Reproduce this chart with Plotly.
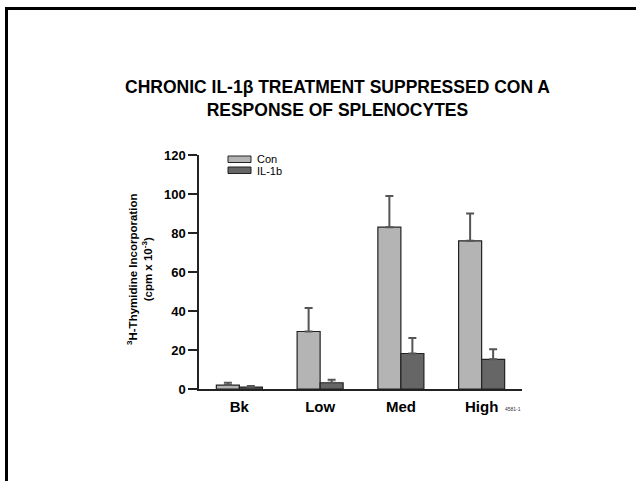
import plotly.graph_objects as go

# ---- data ----
categories = ["Bk", "Low", "Med", "High"]
con_values = [2.0, 29.5, 83.0, 76.0]
con_err_plus = [1.2, 12.0, 16.0, 14.0]
il1b_values = [1.0, 3.2, 18.2, 15.2]
il1b_err_plus = [0.6, 1.6, 8.0, 5.2]
y_ticks = [0, 20, 40, 60, 80, 100, 120]
title_lines = ["CHRONIC IL-1β TREATMENT SUPPRESSED CON A", "RESPONSE OF SPLENOCYTES"]

W, H = 636, 481
L, R, T, B = 199, 636 - 522, 155, 481 - 389
PW, PH = W - L - R, H - T - B
FONT = "Liberation Sans, Arial, Helvetica, sans-serif"


def px_x(x):
    return (x - L) / PW


def px_y(y):
    return (H - B - y) / PH


fig = go.Figure()
fig.add_trace(go.Bar(
    x=categories, y=con_values, name="Con",
    marker=dict(color="#b4b4b4", line=dict(color="#222222", width=1.2)),
    error_y=dict(type="data", array=con_err_plus, arrayminus=[0] * 4, symmetric=False,
                 color="#555555", thickness=2, width=4),
    showlegend=False,
))
fig.add_trace(go.Bar(
    x=categories, y=il1b_values, name="IL-1b",
    marker=dict(color="#666666", line=dict(color="#222222", width=1.2)),
    error_y=dict(type="data", array=il1b_err_plus, arrayminus=[0] * 4, symmetric=False,
                 color="#555555", thickness=2, width=4),
    showlegend=False,
))

shapes = [
    # page frame (top and left)
    dict(type="line", xref="paper", yref="paper", x0=px_x(6.5), x1=px_x(640), y0=px_y(8.5), y1=px_y(8.5),
         line=dict(color="black", width=3)),
    dict(type="line", xref="paper", yref="paper", x0=px_x(6.5), x1=px_x(6.5), y0=px_y(7), y1=px_y(485),
         line=dict(color="black", width=3)),
    # legend swatches
    dict(type="rect", xref="paper", yref="paper", x0=px_x(228), x1=px_x(251), y0=px_y(156), y1=px_y(162.5),
         fillcolor="#b4b4b4", line=dict(color="#222222", width=1)),
    dict(type="rect", xref="paper", yref="paper", x0=px_x(228), x1=px_x(251), y0=px_y(167), y1=px_y(173.5),
         fillcolor="#666666", line=dict(color="#222222", width=1)),
]

annotations = [
    dict(text="Con", xref="paper", yref="paper", x=px_x(255), y=px_y(159), xanchor="left", yanchor="middle",
         showarrow=False, font=dict(family=FONT, size=11, color="black")),
    dict(text="IL-1b", xref="paper", yref="paper", x=px_x(255), y=px_y(170.5), xanchor="left", yanchor="middle",
         showarrow=False, font=dict(family=FONT, size=11, color="black")),
    dict(text="<b><sup>3</sup>H-Thymidine Incorporation<br>(cpm x 10<sup>-3</sup>)</b>", xref="paper", yref="paper",
         x=px_x(139), y=px_y(270), xanchor="center", yanchor="middle", textangle=-90, showarrow=False,
         font=dict(family=FONT, size=11.5, color="black")),
    dict(text="<b>" + "<br>".join(title_lines) + "</b>",
         xref="paper", yref="paper", x=px_x(337), y=px_y(98), xanchor="center", yanchor="middle",
         showarrow=False, font=dict(family=FONT, size=17.5, color="black")),
    dict(text="4581-1", xref="paper", yref="paper", x=px_x(503), y=px_y(409), xanchor="left", yanchor="middle",
         showarrow=False, font=dict(family=FONT, size=5, color="#333333")),
]

fig.update_layout(
    width=W, height=H,
    margin=dict(l=L, r=R, t=T, b=B, pad=0),
    paper_bgcolor="white", plot_bgcolor="white",
    barmode="group", bargap=0.43, bargroupgap=0,
    shapes=shapes, annotations=annotations,
    font=dict(family=FONT, color="black"),
)
fig.update_xaxes(
    range=[-0.5, 3.5], showline=True, linecolor="#222222", linewidth=1.5,
    ticks="", showgrid=False, zeroline=False, ticklabelstandoff=3,
    tickfont=dict(family=FONT, size=15, color="black", weight="bold"),
)
fig.update_yaxes(
    range=[0, 120], tickvals=y_ticks, showline=True, linecolor="#222222", linewidth=1.5,
    ticks="outside", ticklen=9, tickwidth=1.5, tickcolor="#222222",
    showgrid=False, zeroline=False,
    tickfont=dict(family=FONT, size=13, color="black", weight="bold"),
)

fig.write_html("out.html")
